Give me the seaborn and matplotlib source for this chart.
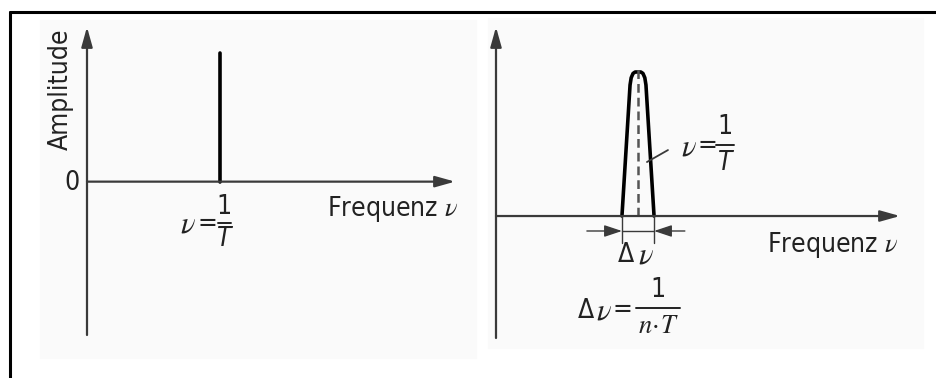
import matplotlib
matplotlib.use("Agg")
import matplotlib.pyplot as plt
from matplotlib.lines import Line2D
from matplotlib.patches import Rectangle
import seaborn as sns

# ---------------- data ----------------
# left panel: single spectral line at nu = 1/T
spike_freq = [1.0, 1.0]
spike_amp = [0.0, 1.0]

# right panel: broadened line profile around nu = 1/T
peak_freq = [0.887, 0.944, 0.952, 0.965, 0.98, 1.0, 1.02, 1.035, 1.048, 1.056, 1.113]
peak_amp = [0.0, 0.91, 0.96, 0.99, 1.0, 1.0, 1.0, 0.99, 0.96, 0.91, 0.0]
center_freq = [1.0, 1.0]
center_amp = [0.0, 1.05]
delta_nu_edges = [0.887, 1.113]

ylabel_text = "Amplitude"
xlabel_text = r"Frequenz $\mathit{\nu}$"
zero_label = "0"

# ---------------- style ----------------
sns.set_theme(style="white")
plt.rcParams['font.family'] = ['DejaVu Sans']
plt.rcParams['font.stretch'] = 'condensed'
plt.rcParams['mathtext.fontset'] = 'stix'

W, H = 936, 378
fig = plt.figure(figsize=(W / 100, H / 100), dpi=100)
fig.patch.set_facecolor("white")
TXT = "#222222"
axis_col = "#3a3a3a"
fs = 19

def fx(x):
    return x / W

def fy(y):
    return 1 - y / H

def px_rect(x0, y0, x1, y1):
    return [x0 / W, 1 - y1 / H, (x1 - x0) / W, (y1 - y0) / H]

def ftext(x, y, s, **kw):
    kw.setdefault("fontsize", fs)
    kw.setdefault("color", TXT)
    kw.setdefault("fontstretch", "condensed")
    fig.text(fx(x), fy(y), s, **kw)

def fraction(xc, y_bar, num, den, bar_w, dy=16, size=fs):
    ftext(xc, y_bar - dy, num, ha="center", va="center", fontsize=size)
    ftext(xc, y_bar + dy, den, ha="center", va="center", fontsize=size, style="italic")
    fig.add_artist(Line2D([fx(xc - bar_w / 2), fx(xc + bar_w / 2)], [fy(y_bar), fy(y_bar)],
                          transform=fig.transFigure, color=TXT, lw=1.4))

# faint scanned-photo backgrounds
fig.add_artist(Rectangle((40 / W, 1 - 358 / H), (476 - 40) / W, (358 - 20) / H,
                         transform=fig.transFigure, color="#fafafa", zorder=0))
fig.add_artist(Rectangle((488 / W, 1 - 348 / H), (923 - 488) / W, (348 - 18) / H,
                         transform=fig.transFigure, color="#fafafa", zorder=0))

# frame lines (top and left)
fig.add_artist(Line2D([10 / W, 1.0], [1 - 12 / H, 1 - 12 / H], transform=fig.transFigure,
                      color="black", lw=2.2))
fig.add_artist(Line2D([10 / W, 10 / W], [0.0, 1 - 12 / H], transform=fig.transFigure,
                      color="black", lw=2.2))

def draw_axes(ax, x_end, y_top, y_bot):
    ax.set_axis_off()
    ax.patch.set_alpha(0)
    style = "-|>,head_length=1.0,head_width=0.28"
    ax.annotate("", xy=(x_end, 0), xytext=(0, 0),
                arrowprops=dict(arrowstyle=style, color=axis_col, lw=1.6,
                                shrinkA=0, shrinkB=0), annotation_clip=False)
    ax.annotate("", xy=(0, y_top), xytext=(0, y_bot),
                arrowprops=dict(arrowstyle=style, color=axis_col, lw=1.6,
                                shrinkA=0, shrinkB=0), annotation_clip=False)

# ---------------- left panel ----------------
axL = fig.add_axes(px_rect(87, 27, 455, 335))
xL_end, yL_top, yL_bot = 2.77, 1.2, -1.19
axL.set_xlim(0, xL_end)
axL.set_ylim(yL_bot, yL_top)
draw_axes(axL, xL_end, yL_top, yL_bot)
sns.lineplot(x=spike_freq, y=spike_amp, ax=axL, color="black", lw=2.6,
             estimator=None, sort=False)
axL.set_axis_off()

ftext(80, 183, zero_label, ha="right", va="center")
ftext(61, 89, ylabel_text, ha="center", va="center", rotation=90)
ftext(459, 209, xlabel_text, ha="right", va="center")
ftext(196, 224, r"$\nu$", ha="right", va="center", fontsize=fs + 3)
ftext(207, 224, "=", ha="center", va="center")
fraction(224, 223, "1", "T", 13, dy=16)

# ---------------- right panel ----------------
axR = fig.add_axes(px_rect(496, 27, 900, 338))
xR_end, yR_top, yR_bot = 2.845, 1.3125, -0.847
axR.set_xlim(0, xR_end)
axR.set_ylim(yR_bot, yR_top)
draw_axes(axR, xR_end, yR_top, yR_bot)
sns.lineplot(x=peak_freq, y=peak_amp, ax=axR, color="black", lw=2.6,
             estimator=None, sort=False)
sns.lineplot(x=center_freq, y=center_amp, ax=axR, color="#555555", lw=1.8,
             estimator=None, sort=False, linestyle=(0, (3.5, 2)))
axR.set_axis_off()

# delta-nu markers
for xe in delta_nu_edges:
    axR.plot([xe, xe], [-0.01, -0.19], color=axis_col, lw=1.0)
axR.plot(delta_nu_edges, [-0.104, -0.104], color=axis_col, lw=1.0)
hstyle = "-|>,head_length=0.9,head_width=0.3"
axR.annotate("", xy=(delta_nu_edges[0], -0.104), xytext=(0.64, -0.104),
             arrowprops=dict(arrowstyle=hstyle, color=axis_col, lw=1.0, shrinkA=0, shrinkB=0))
axR.annotate("", xy=(delta_nu_edges[1], -0.104), xytext=(1.33, -0.104),
             arrowprops=dict(arrowstyle=hstyle, color=axis_col, lw=1.0, shrinkA=0, shrinkB=0))

# annotation for nu = 1/T
axR.plot([1.211, 1.063], [0.458, 0.375], color=axis_col, lw=1.3)
ftext(697, 147, r"$\nu$", ha="right", va="center", fontsize=fs + 3)
ftext(707, 146, "=", ha="center", va="center")
fraction(725, 145, "1", "T", 18, dy=18)

ftext(626, 255, "Δ", ha="center", va="center")
ftext(646, 255, r"$\nu$", ha="center", va="center", fontsize=fs + 3)
ftext(899, 245, xlabel_text, ha="right", va="center")

ftext(586, 311, "Δ", ha="center", va="center")
ftext(604, 311, r"$\nu$", ha="center", va="center", fontsize=fs + 3)
ftext(622, 310, "=", ha="center", va="center")
fraction(658, 308, "1", r"$n\!\cdot\! T$", 44, dy=18)

fig.savefig("out.png", dpi=100)
